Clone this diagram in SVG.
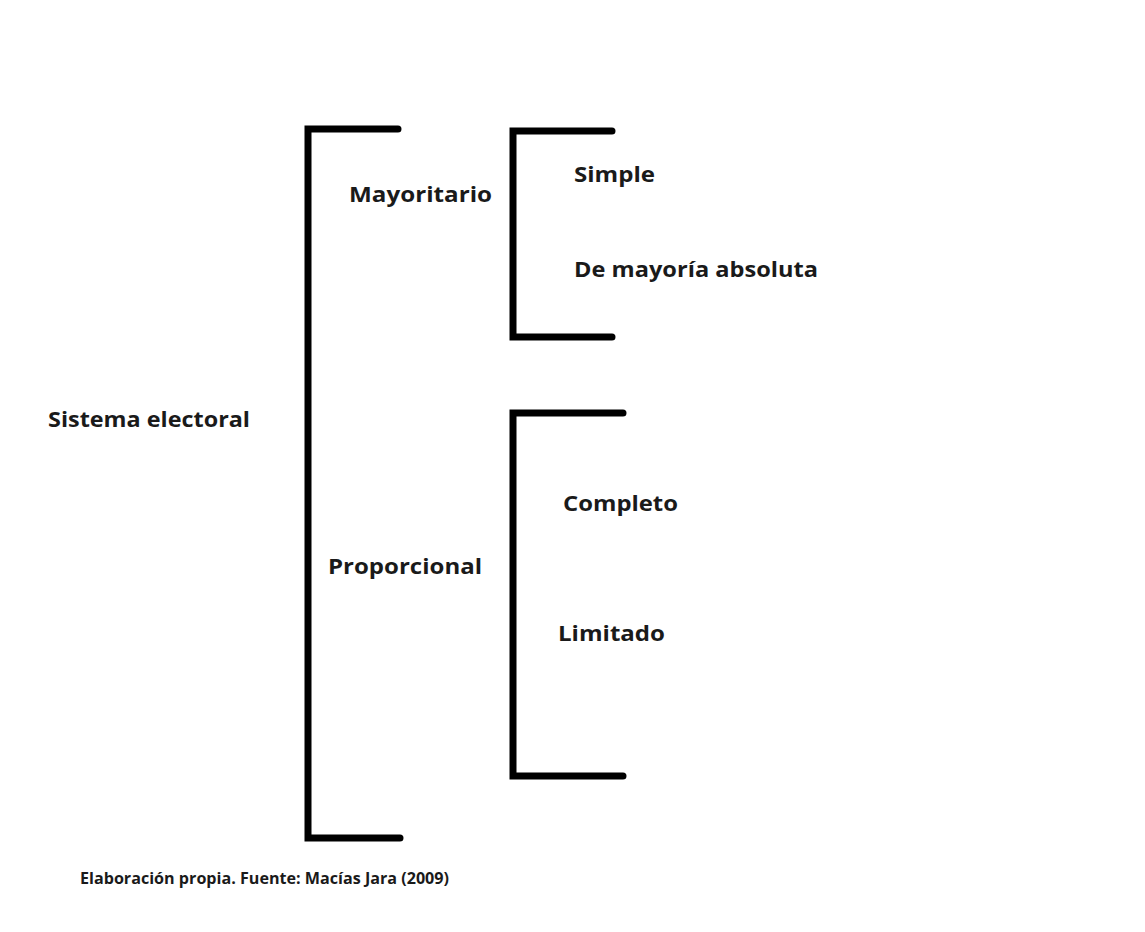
<svg xmlns="http://www.w3.org/2000/svg" width="1145" height="932" viewBox="0 0 1145 932">
<style>
.br{fill:none;stroke:#000;stroke-width:7;stroke-linecap:round;stroke-linejoin:miter}
.t{font-family:"Open Sans","DejaVu Sans",sans-serif;font-weight:bold;font-size:21px;fill:#1a1a1a}
.f{font-family:"Open Sans","Liberation Sans",sans-serif;font-weight:bold;font-size:15.5px;fill:#1a1a1a}
</style>
<rect width="1145" height="932" fill="#fff"/>
<g id="connectors">
<path class="br" d="M398 129 H308 V838 H400"/>
<path class="br" d="M612 131 H513 V337 H612"/>
<path class="br" d="M623 413 H513 V776 H623"/>
</g>
<g id="sistema"><text class="t" x="48" y="427" textLength="202" lengthAdjust="spacingAndGlyphs">Sistema electoral</text></g>
<g id="mayoritario"><text class="t" x="349" y="202" textLength="143" lengthAdjust="spacingAndGlyphs">Mayoritario</text></g>
<g id="simple"><text class="t" x="574" y="182" textLength="81" lengthAdjust="spacingAndGlyphs">Simple</text></g>
<g id="absoluta"><text class="t" x="574" y="277" textLength="244" lengthAdjust="spacingAndGlyphs">De mayoría absoluta</text></g>
<g id="proporcional"><text class="t" x="328" y="574" textLength="154" lengthAdjust="spacingAndGlyphs">Proporcional</text></g>
<g id="completo"><text class="t" x="563" y="511" textLength="115" lengthAdjust="spacingAndGlyphs">Completo</text></g>
<g id="limitado"><text class="t" x="558" y="641" textLength="107" lengthAdjust="spacingAndGlyphs">Limitado</text></g>
<g id="fuente"><text class="f" x="80" y="884" textLength="369" lengthAdjust="spacingAndGlyphs">Elaboración propia. Fuente: Macías Jara (2009)</text></g>
</svg>
